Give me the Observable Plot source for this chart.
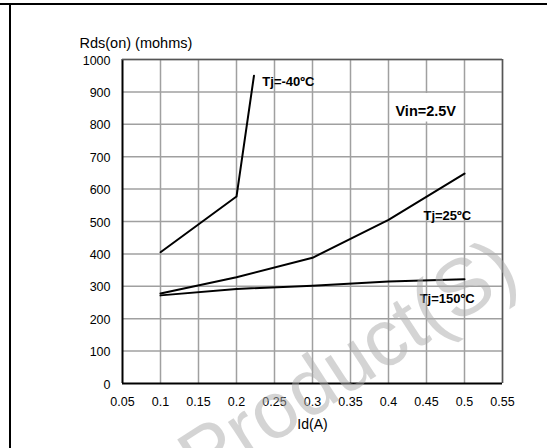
<!DOCTYPE html>
<html>
<head>
<meta charset="utf-8">
<script src="https://cdn.jsdelivr.net/npm/d3@7"></script>
<script src="https://cdn.jsdelivr.net/npm/@observablehq/plot@0.6"></script>
<style>
  html, body { margin: 0; padding: 0; background: #fff; }
  #wrap { position: relative; width: 547px; height: 448px; overflow: hidden; font-family: "Liberation Sans", Arial, sans-serif; }
  #frameTop { position: absolute; left: 0; top: 3px; width: 547px; height: 2px; background: #000; }
  #frameLeft { position: absolute; left: 9px; top: 3px; width: 2px; height: 445px; background: #000; }
  #wm { position: absolute; left: 162px; top: 428px; font-size: 80px; line-height: 92px; color: rgba(170,170,170,0.5); transform: rotate(-33deg); transform-origin: 0 0; white-space: nowrap; pointer-events: none; }
</style>
</head>
<body>
<div id="wrap">
  <div id="chart"></div>
  <div id="frameTop"></div>
  <div id="frameLeft"></div>
  <div id="wm">Product(S)</div>
</div>
<script>
const xTicks = [0.05, 0.1, 0.15, 0.2, 0.25, 0.3, 0.35, 0.4, 0.45, 0.5, 0.55];
const yTicks = [0, 100, 200, 300, 400, 500, 600, 700, 800, 900, 1000];

const idM40 = [0.1, 0.2, 0.223];
const rdsM40 = [405, 577, 950];
const id25 = [0.1, 0.2, 0.3, 0.4, 0.5];
const rds25 = [278, 328, 388, 505, 648];
const id150 = [0.1, 0.2, 0.3, 0.4, 0.5];
const rds150 = [272, 292, 302, 315, 322];

const labelText = ["Tj=-40ºC", "Tj=25ºC", "Tj=150ºC"];
const labelX = [0.234, 0.446, 0.441];
const labelY = [932, 518, 262];

const noteText = "Vin=2.5V";
const noteX = 0.449, noteY = 840;
const noteBox = {x1: 0.403, x2: 0.497, y1: 807, y2: 895};

const series = [
  {name: "-40", xs: idM40, ys: rdsM40},
  {name: "25", xs: id25, ys: rds25},
  {name: "150", xs: id150, ys: rds150}
];
const pts = series.flatMap(s => s.xs.map((x, i) => ({series: s.name, x, y: s.ys[i]})));
const labels = labelText.map((t, i) => ({t, x: labelX[i], y: labelY[i]}));

const font = "Liberation Sans, Arial, sans-serif";

const chart = Plot.plot({
  width: 547,
  height: 448,
  marginLeft: 122,
  marginRight: 45,
  marginTop: 59,
  marginBottom: 65,
  style: {fontFamily: font, background: "transparent", color: "#000"},
  x: {domain: [0.05, 0.55]},
  y: {domain: [0, 1000]},
  marks: [
    Plot.ruleX(xTicks.slice(1), {stroke: "#a0a0a0", strokeWidth: 1.5, strokeOpacity: 1}),
    Plot.ruleY(yTicks.slice(1), {stroke: "#a0a0a0", strokeWidth: 1.5, strokeOpacity: 1}),
    Plot.rect([noteBox], {x1: "x1", x2: "x2", y1: "y1", y2: "y2", fill: "white"}),
    Plot.ruleX([0.05], {stroke: "#000", strokeWidth: 2}),
    Plot.ruleY([0], {stroke: "#000", strokeWidth: 2}),
    Plot.ruleX([0.55], {stroke: "#555", strokeWidth: 1.5}),
    Plot.ruleY([1000], {stroke: "#555", strokeWidth: 1.5}),
    Plot.line(pts, {x: "x", y: "y", z: "series", stroke: "#000", strokeWidth: 2}),
    Plot.axisX({ticks: xTicks, tickSize: 0, tickPadding: 14, fontSize: 12.5, tickFormat: d => String(d), label: null}),
    Plot.axisY({ticks: yTicks, tickSize: 0, tickPadding: 12, fontSize: 12.5, tickFormat: d => String(d), label: null, dy: 1}),
    Plot.text(labels, {x: "x", y: "y", text: "t", textAnchor: "start", fontWeight: "bold", fontSize: 13}),
    Plot.text([noteText], {x: noteX, y: noteY, text: d => d, fontWeight: "bold", fontSize: 14.5}),
    Plot.text(["Rds(on) (mohms)"], {frameAnchor: "top-left", dx: -43, dy: -22, text: d => d, textAnchor: "start", fontSize: 14.5}),
    Plot.text(["Id(A)"], {frameAnchor: "bottom", dy: 45, text: d => d, fontSize: 14})
  ]
});
document.getElementById("chart").appendChild(chart);
</script>
</body>
</html>
